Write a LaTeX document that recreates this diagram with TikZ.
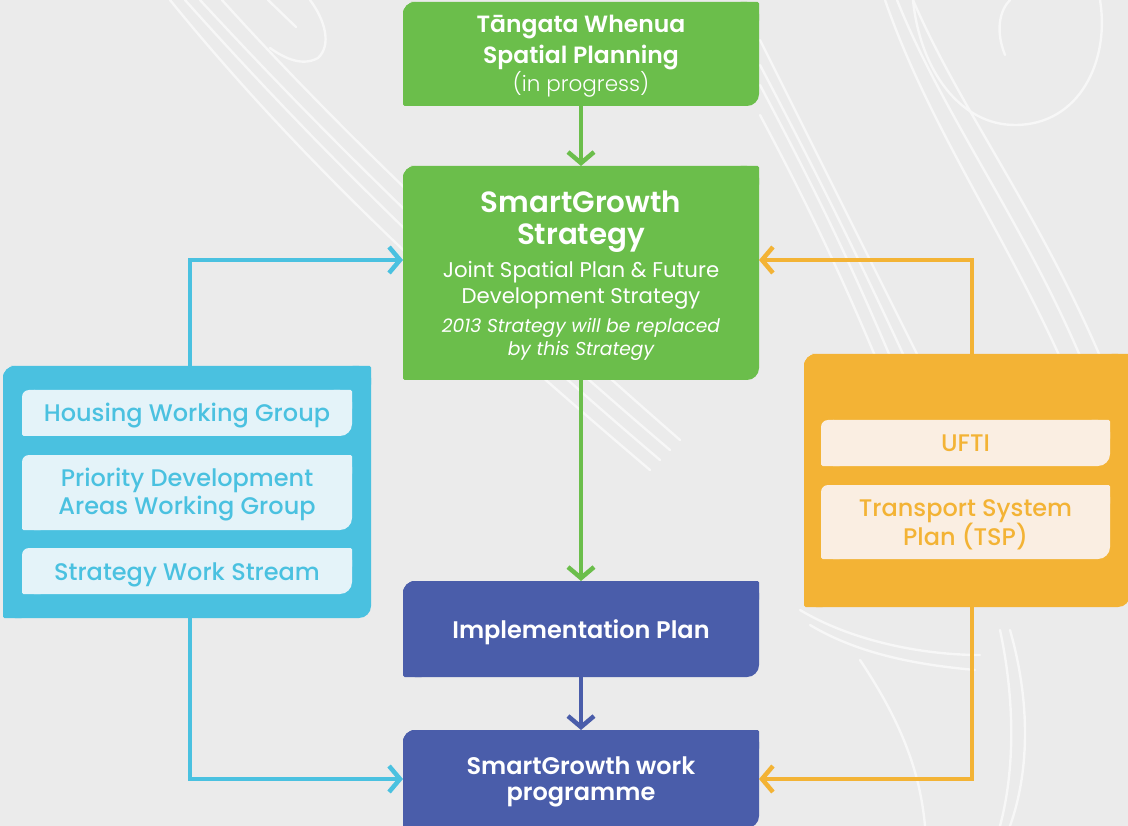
\documentclass[tikz,border=0pt]{standalone}
\usepackage{fontspec}
\setmainfont{Poppins}[BoldFont={Poppins SemiBold}]
\newfontfamily\medfont{Poppins Medium}
\newfontfamily\lightfont{Poppins Light}
\usetikzlibrary{arrows.meta,calc}
\pgfdeclarelayer{bg0}\pgfdeclarelayer{bg1}
\pgfsetlayers{bg0,bg1,main}
\definecolor{bgc}{HTML}{EBEBEB}
\definecolor{patc}{HTML}{F7F7F7}
\definecolor{sgreen}{HTML}{6BBE4B}
\definecolor{sblue}{HTML}{4A5DAA}
\definecolor{scyan}{HTML}{4AC1E0}
\definecolor{sorange}{HTML}{F3B335}
\definecolor{lcyan}{HTML}{E4F3F9}
\definecolor{lorange}{HTML}{FAEEE2}
% box fill: bottom-right radius 12pt, top-left radius #3, other corners nearly square
\newcommand\cornerfill[3]{%
  \begin{pgfonlayer}{bg1}
  \begin{scope}[x=1pt,y=1pt]
  \fill[#2,rounded corners=12pt] (#1.north west) rectangle (#1.south east);
  \fill[#2,rounded corners=1.5pt] (#1.north east) rectangle ++(-20,-20);
  \fill[#2,rounded corners=1.5pt] (#1.south west) rectangle ++(20,20);
  \fill[#2,rounded corners=#3] (#1.north west) rectangle ++(20,-20);
  \end{scope}
  \end{pgfonlayer}}
\tikzset{
  box/.style={shape=rectangle,inner sep=0pt,outer sep=0pt},
  txt/.style={align=center,inner sep=0pt,anchor=base},
  conn/.style={line width=4.5pt,-{Straight Barb[length=11pt,width=26pt]}},
  pat/.style={draw=patc,line width=2.4pt,line cap=round},
}
\begin{document}
\begin{tikzpicture}[x=1pt,y=-1pt]
\useasboundingbox (0,0) rectangle (1128,826);
\begin{pgfonlayer}{bg0}
\fill[bgc] (0,0) rectangle (1128,826);
% faint decorative pattern
\draw[pat] (170,0) .. controls (300,160) and (450,300) .. (650,470);
\draw[pat] (185,0) .. controls (310,140) and (460,290) .. (660,460);
\draw[pat] (200,0) .. controls (320,130) and (470,280) .. (670,450);
\draw[pat] (222,0) .. controls (330,120) and (480,265) .. (680,440);
\draw[pat] (268,0) -- (296,27);
\draw[pat] (310,0) .. controls (325,20) and (332,45) .. (318,58) .. controls (300,68) and (280,55) .. (270,48);
\draw[pat] (760,40) .. controls (820,160) and (870,260) .. (930,380);
\draw[pat] (760,65) .. controls (815,170) and (860,260) .. (915,380);
\draw[pat] (760,85) .. controls (810,180) and (850,260) .. (900,380);
\draw[pat] (760,115) .. controls (800,190) and (840,270) .. (885,380);
\draw[pat] (885,0) .. controls (930,130) and (1010,240) .. (1070,380);
\draw[pat] (897,0) .. controls (945,120) and (1030,230) .. (1090,380);
\draw[pat] (913,0) .. controls (960,110) and (1045,220) .. (1110,380);
\draw[pat] (913,0) .. controls (920,70) and (960,125) .. (1015,125) .. controls (1080,125) and (1110,60) .. (1100,0);
\draw[pat] (1005,55) .. controls (995,30) and (1000,10) .. (1010,0);
\draw[pat] (800,610) .. controls (850,640) and (920,655) .. (980,655);
\draw[pat] (810,625) .. controls (860,655) and (920,665) .. (975,670);
\draw[pat] (860,660) .. controls (900,720) and (920,770) .. (925,826);
\draw[pat] (1000,630) .. controls (1015,700) and (1015,770) .. (1000,826);
\draw[pat] (1010,630) .. controls (1030,700) and (1030,770) .. (1010,826);
\end{pgfonlayer}
% boxes
\node[box,minimum width=356pt,minimum height=104pt] (tw) at (581,54) {};
\node[box,minimum width=356pt,minimum height=214pt] (sgs) at (581,273) {};
\node[box,minimum width=356pt,minimum height=96pt] (ip) at (581,629) {};
\node[box,minimum width=356pt,minimum height=98pt] (wp) at (581,779) {};
\node[box,minimum width=368pt,minimum height=252pt] (left) at (187,492) {};
\node[box,minimum width=330pt,minimum height=46pt] (hwg) at (187,413) {};
\node[box,minimum width=330pt,minimum height=75pt] (pda) at (187,492.5) {};
\node[box,minimum width=330pt,minimum height=46pt] (sws) at (187,571) {};
\node[box,minimum width=326pt,minimum height=253pt] (right) at (967,480.5) {};
\node[box,minimum width=289pt,minimum height=46pt] (ufti) at (965.5,443) {};
\node[box,minimum width=289pt,minimum height=74pt] (tsp) at (965.5,522) {};
\cornerfill{tw}{sgreen}{12pt}
\cornerfill{sgs}{sgreen}{12pt}
\cornerfill{ip}{sblue}{12pt}
\cornerfill{wp}{sblue}{12pt}
\cornerfill{left}{scyan}{12pt}
\cornerfill{right}{sorange}{12pt}
\cornerfill{hwg}{lcyan}{7pt}
\cornerfill{pda}{lcyan}{7pt}
\cornerfill{sws}{lcyan}{7pt}
\cornerfill{ufti}{lorange}{7pt}
\cornerfill{tsp}{lorange}{7pt}
% texts (anchor = baseline of the last line)
\node[txt,text=white,font=\fontsize{23.5pt}{31pt}\selectfont\bfseries] (twt) at (581,63.5) {Tāngata Whenua\\Spatial Planning};
\node[txt,text=white,font=\fontsize{21.5pt}{26pt}\selectfont\lightfont] (twp) at (581,91.7) {(in progress)};
\node[txt,text=white,font=\fontsize{29.3pt}{32pt}\selectfont\bfseries] (sgst) at (581,244.5) {SmartGrowth\\Strategy};
\node[txt,text=white,font=\fontsize{21.3pt}{26pt}\selectfont] (sgss) at (581,303.7) {Joint Spatial Plan \& Future\\Development Strategy};
\node[txt,text=white,font=\fontsize{18.7pt}{23pt}\selectfont\itshape] (sgsn) at (581,355.7) {2013 Strategy will be replaced\\by this Strategy};
\node[txt,text=white,font=\fontsize{24pt}{26pt}\selectfont\bfseries] (ipt) at (581,638.6) {Implementation Plan};
\node[txt,text=white,font=\fontsize{24pt}{26pt}\selectfont\bfseries] (wpt) at (581,800.6) {SmartGrowth work\\programme};
\node[txt,text=scyan,font=\fontsize{24pt}{28pt}\selectfont\medfont] (hwgt) at (187,421.6) {Housing Working Group};
\node[txt,text=scyan,font=\fontsize{24pt}{28pt}\selectfont\medfont] (pdat) at (187,514.6) {Priority Development\\Areas Working Group};
\node[txt,text=scyan,font=\fontsize{24pt}{28pt}\selectfont\medfont] (swst) at (187,580.6) {Strategy Work Stream};
\node[txt,text=sorange,font=\fontsize{24pt}{29pt}\selectfont\medfont] (uftit) at (965.5,451.6) {UFTI};
\node[txt,text=sorange,font=\fontsize{24pt}{29pt}\selectfont\medfont] (tspt) at (965.5,545.6) {Transport System\\Plan (TSP)};
% connectors
\draw[conn,sgreen] (tw.south) -- (sgs.north);
\draw[conn,sgreen] (sgs.south) -- (ip.north);
\draw[conn,sblue] (ip.south) -- (wp.north);
\draw[conn,scyan] ([xshift=3pt]left.north) |- ([yshift=13pt]sgs.west);
\draw[conn,scyan] ([xshift=3pt]left.south) |- (wp.west);
\draw[conn,sorange] ([xshift=5pt]right.north) |- ([yshift=13pt]sgs.east);
\draw[conn,sorange] ([xshift=5pt]right.south) |- (wp.east);
\end{tikzpicture}
\end{document}
